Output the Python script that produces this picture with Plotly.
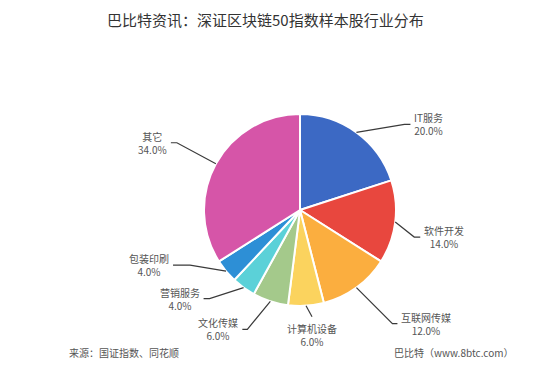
import math
import plotly.graph_objects as go

# ---- data ----
categories = ["IT服务", "软件开发", "互联网传媒", "计算机设备", "文化传媒", "营销服务", "包装印刷", "其它"]
shares = [20.0, 14.0, 12.0, 6.0, 6.0, 4.0, 4.0, 34.0]
title_text = "巴比特资讯：深证区块链50指数样本股行业分布"
source_text = "来源：国证指数、同花顺"
brand_text = "巴比特（www.8btc.com）"

# ---- styles ----
colors = ["#3c69c4", "#e8473e", "#fbae3f", "#fbd35e", "#a4c98b", "#5bd1d8", "#2d8fd6", "#d655a8"]
W, H = 542, 366
CX, CY, R = 300, 210, 96
FONT = "Noto Sans CJK SC, Microsoft YaHei, sans-serif"
# label line layout: elbow offset (px) from slice edge, horizontal tail length, side
label_layout = [
    ((48, -8), 6, "right"),
    ((19, 15), 6, "right"),
    ((36, 36), 5, "right"),
    ((6, 11), 0, "below"),
    ((-23, 28), 5, "left"),
    ((-34, 11), 6, "left"),
    ((-36, -6), 17, "left"),
    ((-39, -21), 6, "left"),
]


def px(x):
    return x / W


def py(y):
    return 1 - y / H


fig = go.Figure()
fig.add_trace(go.Pie(
    labels=categories,
    values=shares,
    sort=False,
    direction="clockwise",
    rotation=0,
    textinfo="none",
    hoverinfo="label+percent",
    marker=dict(colors=colors, line=dict(color="white", width=2)),
    domain=dict(x=[px(CX - R), px(CX + R)], y=[py(CY + R), py(CY - R)]),
    showlegend=False,
))

total = sum(shares)
shapes = []
annotations = []
cum = 0.0
for cat, v, (elbow, tail, side) in zip(categories, shares, label_layout):
    mid = (cum + v / 2) / total * 2 * math.pi
    cum += v
    ex = CX + R * math.sin(mid)
    ey = CY - R * math.cos(mid)
    bx, by = ex + elbow[0], ey + elbow[1]
    if side == "right":
        tx, ty = bx + tail, by
    elif side == "left":
        tx, ty = bx - tail, by
    else:
        tx, ty = bx, by
    path = f"M {px(ex)} {py(ey)} L {px(bx)} {py(by)} L {px(tx)} {py(ty)}"
    shapes.append(dict(type="path", xref="paper", yref="paper", path=path,
                       line=dict(color="#3a3a3a", width=1.2)))
    label = f"{cat}<br>{v / total * 100:.1f}%"
    if side == "right":
        annotations.append(dict(x=px(tx + 2), y=py(ty), xanchor="left", yanchor="middle", align="center"))
    elif side == "left":
        annotations.append(dict(x=px(tx - 2), y=py(ty), xanchor="right", yanchor="middle", align="center"))
    else:
        annotations.append(dict(x=px(tx), y=py(ty + 2), xanchor="center", yanchor="top", align="center"))
    annotations[-1].update(text=label, showarrow=False, xref="paper", yref="paper",
                           font=dict(family=FONT, size=10, color="#555555"))

annotations.append(dict(text=title_text, x=px(265), y=py(20), xref="paper", yref="paper",
                        xanchor="center", yanchor="middle", showarrow=False,
                        font=dict(family=FONT, size=15, color="#333333")))
annotations.append(dict(text=source_text, x=px(67), y=py(352), xref="paper", yref="paper",
                        xanchor="left", yanchor="middle", showarrow=False,
                        font=dict(family=FONT, size=10, color="#555555")))
annotations.append(dict(text=brand_text, x=px(392), y=py(352), xref="paper", yref="paper",
                        xanchor="left", yanchor="middle", showarrow=False,
                        font=dict(family=FONT, size=10, color="#555555")))

fig.update_layout(
    width=W, height=H,
    margin=dict(l=0, r=0, t=0, b=0),
    paper_bgcolor="white",
    plot_bgcolor="white",
    shapes=shapes,
    annotations=annotations,
    font=dict(family=FONT),
)

fig.write_html(
    "out.html",
    config={"displayModeBar": False},
    post_script="document.body.style.margin='0';document.body.style.padding='0';document.body.style.overflow='hidden';",
)
